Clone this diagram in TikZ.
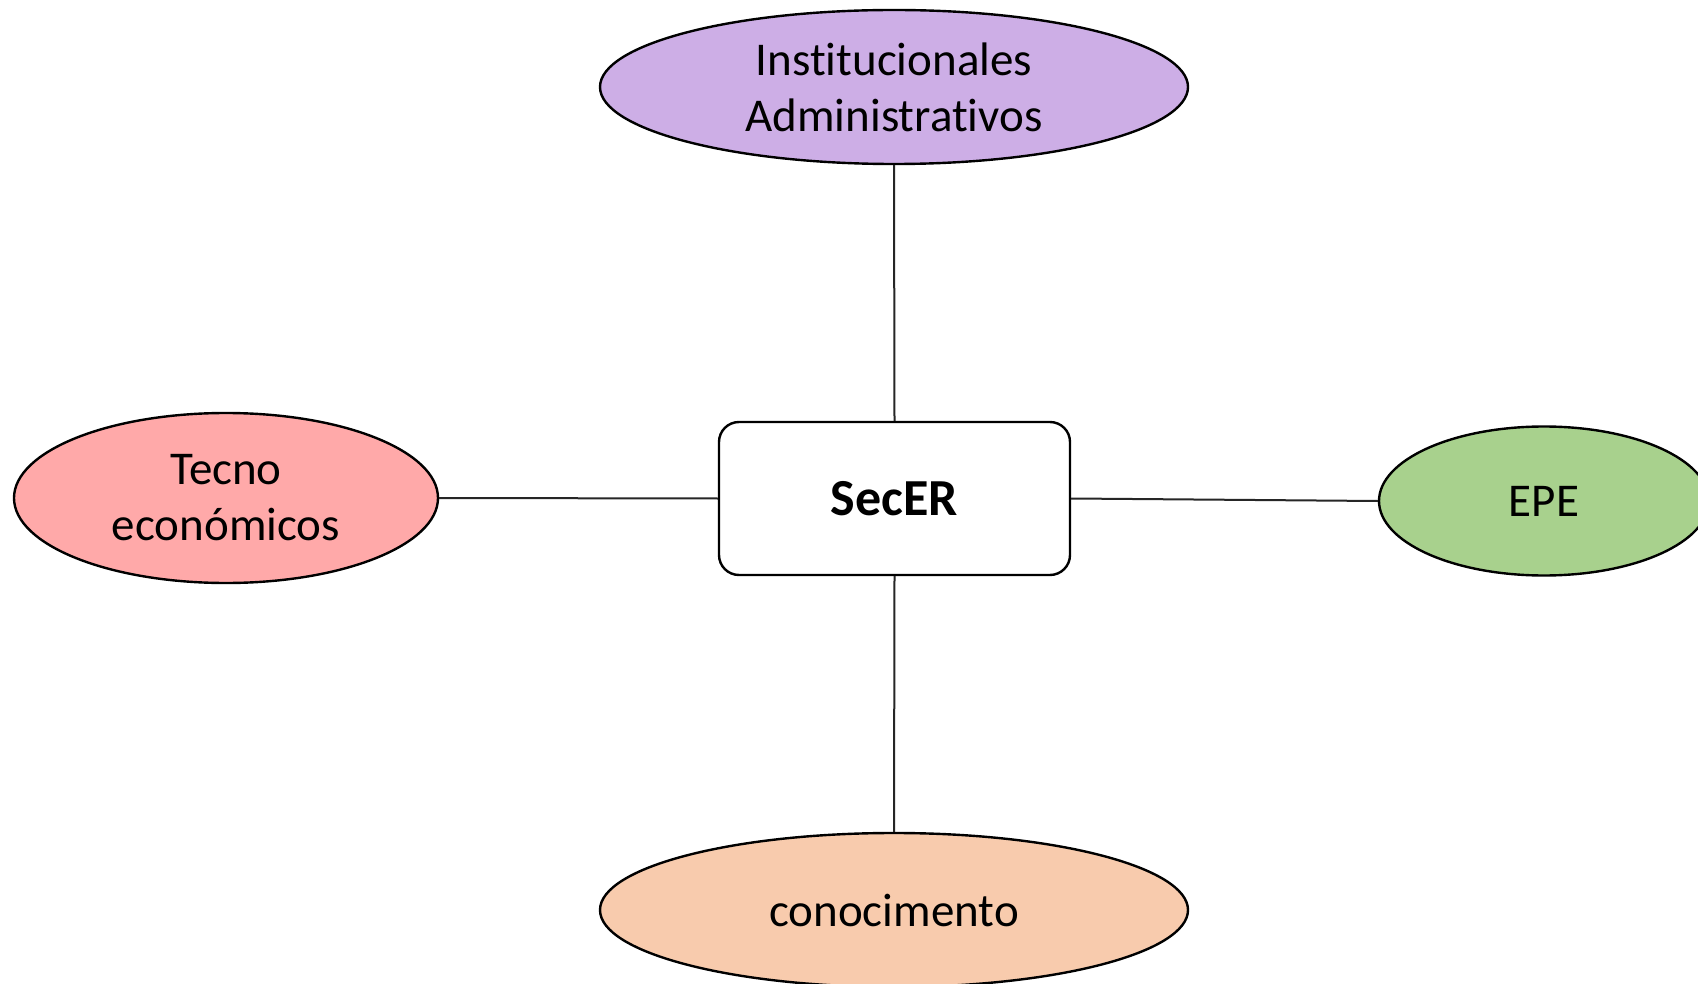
\documentclass[tikz,border=0pt]{standalone}
\usepackage{fontspec}
\setmainfont[Ligatures=NoCommon]{Carlito}
\usetikzlibrary{shapes.geometric}
\definecolor{lilac}{HTML}{CDAEE6}
\definecolor{rosy}{HTML}{FFA9A9}
\definecolor{leaf}{HTML}{A8D18D}
\definecolor{peach}{HTML}{F8CBAD}
\begin{document}
\begin{tikzpicture}[x=1pt,y=-1pt,
  topic/.style={ellipse, draw=black, line width=2.4pt, inner sep=0pt,
    align=center, font=\fontsize{47}{56}\selectfont},
  hub/.style={rectangle, rounded corners=20pt, draw=black, line width=2.4pt,
    fill=white, minimum width=351pt, minimum height=153pt,
    font=\fontsize{52}{60}\selectfont\bfseries},
  link/.style={draw=black!85, line width=2pt}]
\useasboundingbox (0,0) rectangle (1698,984);
\fill[white] (0,0) rectangle (1698,984);

\node[hub] (sec) at (894.5,498.5) {SecER};

\node[topic, fill=lilac, minimum width=588pt, minimum height=154pt]
  (inst) at (894,87) {Institucionales\\Administrativos};
\node[topic, fill=rosy, minimum width=424pt, minimum height=170pt]
  (tec) at (226,498) {Tecno\\económicos};
\node[topic, fill=leaf, minimum width=330pt, minimum height=149pt]
  (epe) at (1544,501) {EPE};
\node[topic, fill=peach, minimum width=588pt, minimum height=154pt]
  (con) at (894,910) {conocimento};

\draw[link] (inst.south) -- (sec.north);
\draw[link] (tec.east) -- (sec.west);
\draw[link] (sec.east) -- (epe.west);
\draw[link] (sec.south) -- (con.north);
\end{tikzpicture}
\end{document}
